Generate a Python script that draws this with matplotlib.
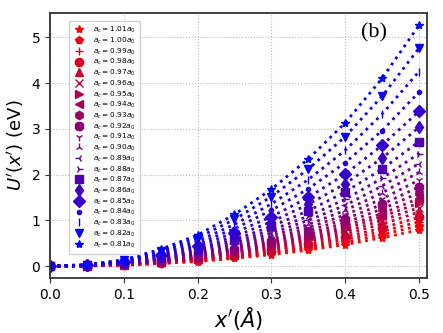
import numpy as np
import matplotlib
matplotlib.use("Agg")
import matplotlib.pyplot as plt

# ── DATA ──────────────────────────────────────────────────────────────────────
x_vals = [0.0, 0.05, 0.10, 0.15, 0.20, 0.25, 0.30, 0.35, 0.40, 0.45, 0.50]

a_c = [1.01, 1.00, 0.99, 0.98, 0.97, 0.96, 0.95, 0.94, 0.93, 0.92, 0.91,
       0.90, 0.89, 0.88, 0.87, 0.86, 0.85, 0.84, 0.83, 0.82, 0.81]

u_101 = [0, 0.00, 0.02, 0.06, 0.10, 0.17, 0.25, 0.35, 0.47, 0.62, 0.79]
u_100 = [0, 0.01, 0.02, 0.06, 0.11, 0.19, 0.28, 0.39, 0.52, 0.69, 0.88]
u_099 = [0, 0.01, 0.03, 0.07, 0.13, 0.21, 0.31, 0.43, 0.58, 0.76, 0.97]
u_098 = [0, 0.01, 0.03, 0.07, 0.14, 0.23, 0.34, 0.48, 0.64, 0.83, 1.07]
u_097 = [0, 0.01, 0.03, 0.08, 0.15, 0.25, 0.38, 0.53, 0.70, 0.92, 1.18]
u_096 = [0, 0.01, 0.03, 0.09, 0.17, 0.28, 0.41, 0.57, 0.76, 1.00, 1.28]
u_095 = [0, 0.01, 0.04, 0.10, 0.18, 0.30, 0.44, 0.61, 0.82, 1.08, 1.38]
u_094 = [0, 0.01, 0.04, 0.10, 0.19, 0.32, 0.47, 0.66, 0.88, 1.15, 1.48]
u_093 = [0, 0.01, 0.04, 0.11, 0.21, 0.34, 0.51, 0.71, 0.95, 1.25, 1.60]
u_092 = [0, 0.01, 0.05, 0.12, 0.22, 0.37, 0.55, 0.77, 1.03, 1.35, 1.73]
u_091 = [0, 0.01, 0.05, 0.13, 0.24, 0.40, 0.60, 0.84, 1.12, 1.47, 1.88]
u_090 = [0, 0.01, 0.06, 0.14, 0.27, 0.44, 0.66, 0.91, 1.22, 1.60, 2.05]
u_089 = [0, 0.01, 0.06, 0.16, 0.29, 0.48, 0.72, 1.00, 1.33, 1.75, 2.24]
u_088 = [0, 0.01, 0.07, 0.17, 0.32, 0.53, 0.79, 1.09, 1.46, 1.92, 2.46]
u_087 = [0, 0.02, 0.07, 0.19, 0.35, 0.58, 0.87, 1.21, 1.62, 2.12, 2.72]
u_086 = [0, 0.02, 0.08, 0.21, 0.39, 0.65, 0.97, 1.35, 1.80, 2.36, 3.03]
u_085 = [0, 0.02, 0.09, 0.24, 0.44, 0.73, 1.08, 1.50, 2.01, 2.64, 3.38]
u_084 = [0, 0.02, 0.10, 0.27, 0.49, 0.82, 1.22, 1.69, 2.26, 2.96, 3.80]
u_083 = [0, 0.03, 0.11, 0.30, 0.55, 0.91, 1.36, 1.89, 2.53, 3.32, 4.25]
u_082 = [0, 0.03, 0.13, 0.33, 0.62, 1.02, 1.52, 2.12, 2.83, 3.71, 4.76]
u_081 = [0, 0.03, 0.14, 0.37, 0.68, 1.13, 1.68, 2.34, 3.13, 4.10, 5.26]

series = [u_101, u_100, u_099, u_098, u_097, u_096, u_095, u_094, u_093, u_092,
          u_091, u_090, u_089, u_088, u_087, u_086, u_085, u_084, u_083, u_082,
          u_081]

markers = ['*', 'p', '+', 'o', '^', 'x', '>', '<', 'h', '8', '1', '2', '3', '4',
           's', 'd', 'D', '.', '|', 'v', '*']

# ── PLOT ──────────────────────────────────────────────────────────────────────
fig = plt.figure(figsize=(4.43, 3.33), dpi=100)
ax = fig.add_axes([0.113, 0.165, 0.851, 0.796])

n = len(series)
for i, (ac, u, m) in enumerate(zip(a_c, series, markers)):
    t = i / (n - 1)
    col = (1 - t, 0, t)
    ax.plot(x_vals, u, linestyle=':', linewidth=2, color=col)
    ax.plot(x_vals, u, linestyle='none', marker=m, markersize=6,
            color=col, label=r"$a_c = %.2fa_0$" % ac)

ax.set_xlim(0, 0.511)
ax.set_ylim(-0.26, 5.53)
ax.set_xticks([0.0, 0.1, 0.2, 0.3, 0.4, 0.5])
ax.set_yticks([0, 1, 2, 3, 4, 5])
ax.tick_params(labelsize=10, color='#333333')
ax.grid(True, linestyle=':', color='#bbbbbb', linewidth=0.8)
for s in ax.spines.values():
    s.set_color('#333333')
    s.set_linewidth(1.3)

ax.set_xlabel(r"$x'(\AA)$", fontsize=15, labelpad=2)
ax.set_ylabel(r"$U'(x')$ (eV)", fontsize=13, labelpad=4)

ax.text(0.86, 0.925, "(b)", transform=ax.transAxes, fontsize=16,
        family='Liberation Serif', ha='center', va='center')

ax.legend(loc='upper left', bbox_to_anchor=(0.04, 0.985), fontsize=5.3,
          labelspacing=0.07, handlelength=1.5, handletextpad=1.2,
          borderpad=0.6, framealpha=0.9, edgecolor='#cccccc')

fig.savefig("out.png", dpi=100)
